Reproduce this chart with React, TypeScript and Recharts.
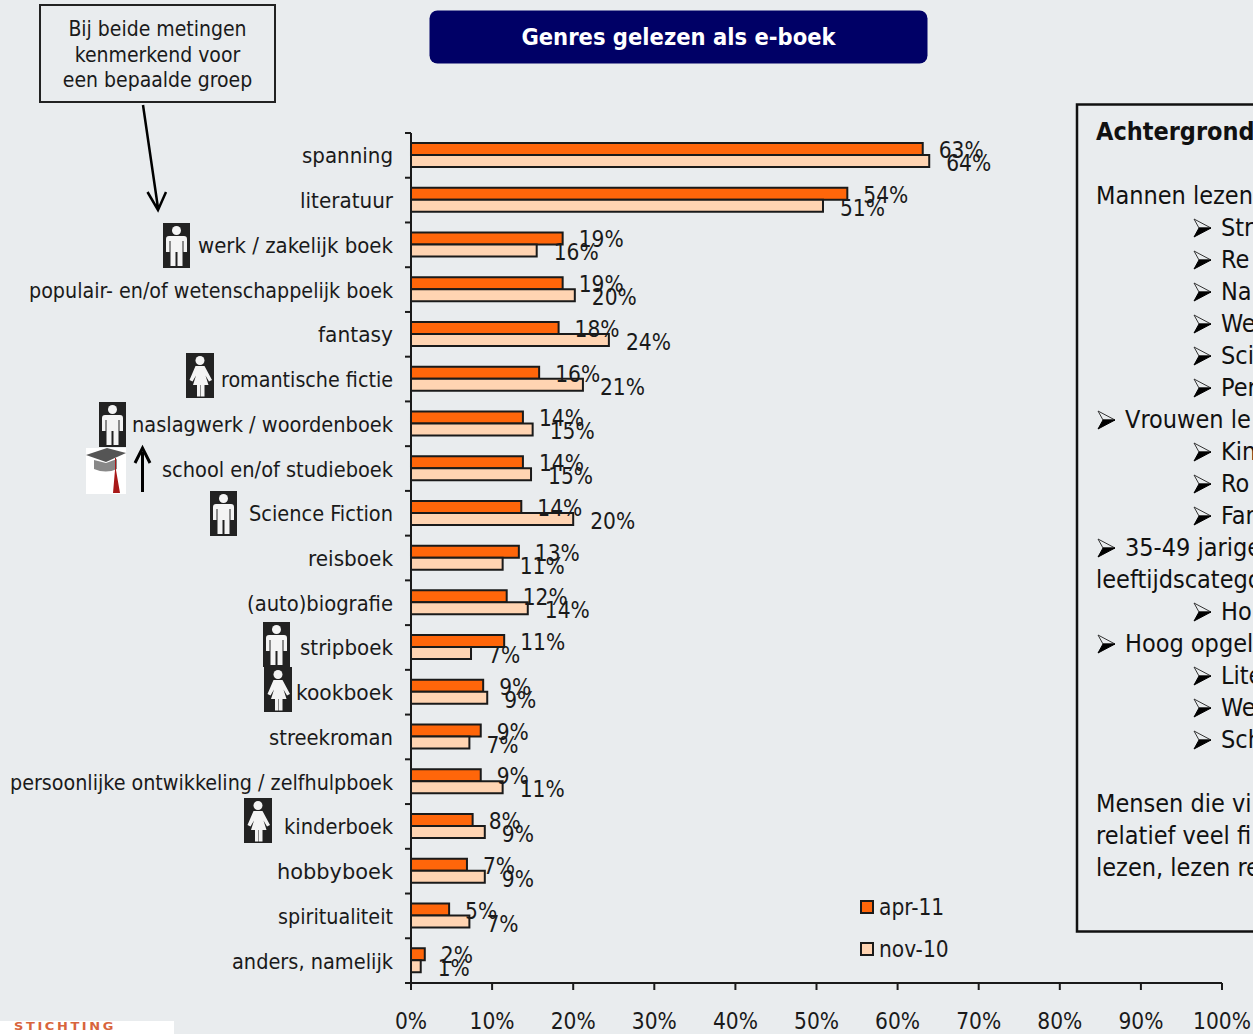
import React from "react";
import { BarChart, Bar, XAxis, YAxis, Legend, LabelList } from "recharts";

const FONT = "'DejaVu Sans Condensed','DejaVu Sans',sans-serif";
const INK = "#1a1a1a";

const categories = [
  "spanning", "literatuur", "werk / zakelijk boek", "populair- en/of wetenschappelijk boek",
  "fantasy", "romantische fictie", "naslagwerk / woordenboek", "school en/of studieboek",
  "Science Fiction", "reisboek", "(auto)biografie", "stripboek", "kookboek", "streekroman",
  "persoonlijke ontwikkeling / zelfhulpboek", "kinderboek", "hobbyboek", "spiritualiteit", "anders, namelijk",
];
const apr11 = [63.1, 53.8, 18.7, 18.7, 18.2, 15.8, 13.8, 13.8, 13.6, 13.3, 11.8, 11.49, 8.9, 8.6, 8.6, 7.6, 6.9, 4.7, 1.7];
const nov10 = [63.9, 50.8, 15.5, 20.2, 24.4, 21.2, 15.0, 14.8, 20.0, 11.3, 14.4, 7.4, 9.4, 7.2, 11.3, 9.1, 9.1, 7.2, 1.2];
const xTicks = [0, 10, 20, 30, 40, 50, 60, 70, 80, 90, 100];
const seriesColors = { apr: "#FF660A", nov: "#FFD4B2" };
const tickTextWidths = [91, 93, 195, 364, 75, 172, 261, 231, 144, 85, 146, 93, 97, 124, 383, 109, 116, 115, 161];

const annotationLines = ["Bij beide metingen", "kenmerkend voor", "een bepaalde groep"];
const sideText: { t: string; x: number; y: number; bold?: boolean; bullet?: boolean }[] = [
  { t: "Achtergrond", x: 1096, y: 132, bold: true },
  { t: "Mannen lezen", x: 1096, y: 196 },
  { t: "Str", x: 1221, y: 228, bullet: true },
  { t: "Re", x: 1221, y: 260, bullet: true },
  { t: "Na", x: 1221, y: 292, bullet: true },
  { t: "We", x: 1221, y: 324, bullet: true },
  { t: "Sci", x: 1221, y: 356, bullet: true },
  { t: "Per", x: 1221, y: 388, bullet: true },
  { t: "Vrouwen le", x: 1125, y: 420, bullet: true },
  { t: "Kin", x: 1221, y: 452, bullet: true },
  { t: "Ro", x: 1221, y: 484, bullet: true },
  { t: "Far", x: 1221, y: 516, bullet: true },
  { t: "35-49 jarige", x: 1125, y: 548, bullet: true },
  { t: "leeftijdscatego", x: 1096, y: 580 },
  { t: "Ho", x: 1221, y: 612, bullet: true },
  { t: "Hoog opgel", x: 1125, y: 644, bullet: true },
  { t: "Lite", x: 1221, y: 676, bullet: true },
  { t: "We", x: 1221, y: 708, bullet: true },
  { t: "Sch", x: 1221, y: 740, bullet: true },
  { t: "Mensen die vi", x: 1096, y: 804 },
  { t: "relatief veel fi", x: 1096, y: 836 },
  { t: "lezen, lezen re", x: 1096, y: 868 },
];
const manIcons = [[163, 223], [99, 402], [210, 491], [263, 622]];
const womanIcons = [[186, 353], [264, 667], [244, 798]];

const rows = categories.map((name, i) => ({ name, apr: apr11[i], nov: nov10[i] }));
const BAND = 850 / categories.length;

function CategoryTick(props: any) {
  const { x, y, payload, index } = props;
  const axisX = x + 24;
  return (
    <g>
      <line x1={axisX - 6} x2={axisX} y1={y - BAND / 2} y2={y - BAND / 2} stroke={INK} strokeWidth={2} />
      {index === categories.length - 1 && (
        <line x1={axisX - 6} x2={axisX} y1={y + BAND / 2} y2={y + BAND / 2} stroke={INK} strokeWidth={2} />
      )}
      <text
        x={x + 6}
        y={y + 8}
        textAnchor="end"
        fontFamily={FONT}
        fontSize={22}
        fill={INK}
        textLength={tickTextWidths[index]}
        lengthAdjust="spacingAndGlyphs"
      >
        {payload.value}
      </text>
    </g>
  );
}

function LegendBox({ payload }: any) {
  return (
    <div style={{ fontFamily: FONT, fontSize: 22.5, color: INK, lineHeight: "26px" }}>
      {(payload || []).map((p: any) => (
        <div key={p.value} style={{ display: "flex", alignItems: "center", height: 42 }}>
          <span style={{ width: 10, height: 10, background: p.color, border: `2px solid ${INK}`, marginRight: 5, display: "inline-block" }} />
          {p.value}
        </div>
      ))}
    </div>
  );
}

function Man({ x, y }: { x: number; y: number }) {
  return (
    <g transform={`translate(${x},${y})`}>
      <rect width={27} height={45} fill="#222" />
      <circle cx={13.500} cy={7.500} r={4.500} fill="#f4f4f4" />
      <path d="M6 13h15a3 3 0 0 1 3 3v13h-3.500v-11h-1v25h-5v-14h-2v14h-5v-25h-1v11H3V16a3 3 0 0 1 3-3z" fill="#f4f4f4" />
    </g>
  );
}
function Woman({ x, y }: { x: number; y: number }) {
  return (
    <g transform={`translate(${x},${y})`}>
      <rect width={28} height={45} fill="#222" />
      <circle cx={14} cy={7.500} r={4.500} fill="#f4f4f4" />
      <path d="M9.500 13h9l7.500 14-3 1.500-3.500-6 3 9.500h-4v11.500h-3.500v-11.500h-.5v11.500h-3.500v-11.500h-4l3-9.500-3.500 6-3-1.500z" fill="#f4f4f4" />
    </g>
  );
}
function Bullet({ x, y }: { x: number; y: number }) {
  return (
    <g transform={`translate(${x},${y})`}>
      <path d="M0-9L17 0H5z" fill="#E9ECEE" stroke="#333" strokeWidth={1} />
      <path d="M0 9L17 0H5z" fill="#000" stroke="#000" strokeWidth={1} />
    </g>
  );
}

function Overlay() {
  return (
    <svg width={1253} height={1034} style={{ position: "absolute", left: 0, top: 0, pointerEvents: "none" }}>
      <rect x={429.500} y={10.500} width={498} height={53} rx={8} fill="#000066" />
      <text x={678.500} y={45} textAnchor="middle" fontFamily={FONT} fontWeight={700} fontSize={23.500} fill="#fff">Genres gelezen als e-boek</text>

      <rect x={40} y={5} width={235} height={97} fill="#E9ECEE" stroke="#222" strokeWidth={2} />
      {annotationLines.map((l, i) => (
        <text key={l} x={157.500} y={36 + i * 25.500} textAnchor="middle" fontFamily={FONT} fontSize={21} fill={INK}>{l}</text>
      ))}
      <path d="M143 105L158 208M147.500 192L158 210L166 192" fill="none" stroke="#000" strokeWidth={2.500} />

      {manIcons.map(([x, y]) => <Man key={`${x}-${y}`} x={x} y={y} />)}
      {womanIcons.map(([x, y]) => <Woman key={`${x}-${y}`} x={x} y={y} />)}

      <rect x={86} y={448} width={40} height={46} fill="#fff" />
      <path d="M86 455L107 448L126 453L106 462z" fill="#555" />
      <path d="M94 460V469Q106 474 117 469V459L106 463z" fill="#888" />
      <path d="M116 458V470L120 493H113L115 470V458z" fill="#A81818" />
      <path d="M142.500 492V452M135 463L142.500 448L150 463" fill="none" stroke="#000" strokeWidth={3} />

      <rect x={0} y={1021} width={174} height={13} fill="#fff" />
      <text x={14} y={1030} fontFamily="'DejaVu Sans',sans-serif" fontWeight={700} fontSize={10} letterSpacing={2} textLength={102} lengthAdjust="spacingAndGlyphs" fill="#D8643C">STICHTING</text>

      <rect x={1077} y={104.500} width={200} height={827} fill="none" stroke="#111" strokeWidth={2.500} />
      {sideText.map((s) => (
        <g key={s.y}>
          {s.bullet && <Bullet x={s.x - 27} y={s.y} />}
          <text x={s.x} y={s.y + 8} fontFamily={FONT} fontSize={25} fontWeight={s.bold ? 700 : 400} fill="#111">{s.t}</text>
        </g>
      ))}
    </svg>
  );
}

export default function App() {
  return (
    <div style={{ position: "absolute", left: 0, top: 0, width: 1253, height: 1034, background: "#E9ECEE", overflow: "hidden" }}>
      <BarChart
        width={1253}
        height={1034}
        data={rows}
        layout="vertical"
        margin={{ top: 133, right: 31, bottom: 0, left: 0 }}
        barSize={12}
        barGap={0}
      >
        <XAxis
          type="number"
          domain={[0, 100]}
          ticks={xTicks}
          height={51}
          interval={0}
          tickSize={7}
          tickMargin={23}
          tickFormatter={(v: number) => `${v}%`}
          axisLine={{ stroke: INK, strokeWidth: 2 }}
          tickLine={{ stroke: INK, strokeWidth: 2 }}
          tick={{ fontFamily: FONT, fontSize: 22.5, fill: INK }}
        />
        <YAxis
          type="category"
          dataKey="name"
          width={411}
          interval={0}
          tickLine={false}
          axisLine={{ stroke: INK, strokeWidth: 2 }}
          tick={<CategoryTick />}
          tickMargin={18}
        />
        <Legend
          layout="vertical"
          align="center"
          verticalAlign="middle"
          wrapperStyle={{ position: "absolute", left: 860, top: 886, width: 110, height: 84, right: "auto", bottom: "auto" }}
          content={<LegendBox />}
        />
        <Bar dataKey="apr" name="apr-11" fill={seriesColors.apr} stroke={INK} strokeWidth={2} isAnimationActive={false}>
          <LabelList dataKey="apr" position="right" offset={16} dy={1} formatter={(v: number) => `${Math.round(v)}%`} style={{ fontFamily: FONT, fontSize: 22.5, fill: INK }} />
        </Bar>
        <Bar dataKey="nov" name="nov-10" fill={seriesColors.nov} stroke={INK} strokeWidth={2} isAnimationActive={false}>
          <LabelList dataKey="nov" position="right" offset={17} dy={2} formatter={(v: number) => `${Math.round(v)}%`} style={{ fontFamily: FONT, fontSize: 22.5, fill: INK }} />
        </Bar>
      </BarChart>
      <Overlay />
    </div>
  );
}
